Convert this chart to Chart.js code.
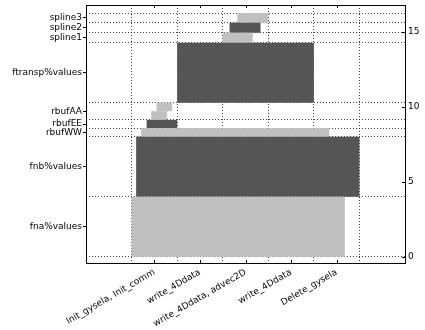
<!DOCTYPE html>
<html>
<head>
<meta charset="utf-8">
<script src="https://cdn.jsdelivr.net/npm/chart.js@4/dist/chart.umd.min.js"></script>
<style>
  html, body { margin: 0; padding: 0; background: #fff; }
  #wrap { width: 425px; height: 330px; }
</style>
</head>
<body>
<div id="wrap"><canvas id="memChart" width="425" height="330"></canvas></div>
<script>
// variables, bottom-up
const varNames = ['fna%values', 'fnb%values', 'rbufWW', 'rbufEE', 'rbufAA', 'ftransp%values', 'spline1', 'spline2', 'spline3'];

// allocation blocks (rbufAA is allocated twice)
const blockVar   = [0, 1, 2, 3, 4, 4, 5, 6, 7, 8];
const blockStart = [1.00, 1.10, 1.21, 1.33, 1.43, 1.55, 2.00, 3.00, 3.15, 3.32];
const blockEnd   = [5.68, 6.00, 5.34, 2.00, 1.78, 1.89, 5.00, 3.66, 3.83, 4.00];
const blockLow   = [0.00, 4.00, 8.00, 8.57, 9.12, 9.70, 10.27, 14.27, 14.93, 15.60];
const blockHigh  = [4.00, 8.00, 8.57, 9.12, 9.70, 10.27, 14.27, 14.93, 15.60, 16.24];

// x axis
const stepLabels = ['Init_gysela, Init_comm', 'write_4Ddata', 'write_4Ddata, advec2D', 'write_4Ddata', 'Delete_gysela'];
const stepPos    = [1.5, 2.5, 3.5, 4.5, 5.5];
const stepGrid   = [1, 2, 3, 4, 5, 6];

// right axis
const sizeTicks = [0, 5, 10, 15];

const xMin = 0, xMax = 7;
const yMin = -0.42, yMax = 16.78;

const lightGray = '#c0c0c0';
const darkGray = '#555555';
const gridDots = 'rgba(0,0,0,0.75)';

// extent of each variable -> label position and grid boundaries
const varLow = varNames.map((n, i) => Math.min(...blockLow.filter((v, j) => blockVar[j] === i)));
const varHigh = varNames.map((n, i) => Math.max(...blockHigh.filter((v, j) => blockVar[j] === i)));
const varMid = varNames.map((n, i) => (varLow[i] + varHigh[i]) / 2);
const yGrid = [...new Set(varLow.concat(varHigh))].sort((a, b) => a - b);

const datasets = blockVar.map((vi, i) => ({
    data: [
        {x: blockStart[i], y: blockLow[i]},
        {x: blockEnd[i], y: blockLow[i]},
        {x: blockEnd[i], y: blockHigh[i]},
        {x: blockStart[i], y: blockHigh[i]}
    ],
    showLine: true,
    fill: 'shape',
    backgroundColor: vi % 2 === 0 ? lightGray : darkGray,
    borderWidth: 0,
    pointRadius: 0,
    tension: 0,
    xAxisID: 'x',
    yAxisID: 'y'
}));

// matplotlib style ticks pointing into the plot
const inwardTicks = {
    id: 'inwardTicks',
    afterDraw(chart) {
        const {ctx, chartArea: a, scales} = chart;
        ctx.save();
        ctx.strokeStyle = '#000';
        ctx.lineWidth = 1;
        ctx.beginPath();
        scales.x.ticks.forEach(t => {
            const px = Math.round(scales.x.getPixelForValue(t.value)) + 0.5;
            ctx.moveTo(px, a.bottom); ctx.lineTo(px, a.bottom - 3);
            ctx.moveTo(px, a.top); ctx.lineTo(px, a.top + 3);
        });
        scales.y2.ticks.forEach(t => {
            const py = Math.round(scales.y2.getPixelForValue(t.value)) + 0.5;
            ctx.moveTo(a.right, py); ctx.lineTo(a.right - 3, py);
        });
        ctx.stroke();
        ctx.restore();
    }
};

// fixed axis sizes, no extra room for half labels
const fixWidth = w => axis => { axis.width = w; axis.paddingTop = 0; axis.paddingBottom = 0; };
const fixHeight = h => axis => { axis.height = h; axis.paddingLeft = 0; axis.paddingRight = 0; };

Chart.defaults.font.family = '"DejaVu Sans", sans-serif';
Chart.defaults.font.size = 9;
Chart.defaults.color = '#000';

new Chart(document.getElementById('memChart').getContext('2d'), {
    type: 'scatter',
    data: { datasets: datasets },
    plugins: [inwardTicks],
    options: {
        responsive: false,
        animation: false,
        layout: { padding: { top: 5, left: 0, right: 0, bottom: 0 } },
        plugins: { legend: { display: false }, tooltip: { enabled: false } },
        scales: {
            x: {
                type: 'linear', position: 'bottom', min: xMin, max: xMax,
                afterBuildTicks: axis => { axis.ticks = stepPos.map(v => ({value: v})); },
                afterFit: fixHeight(67),
                ticks: {
                    autoSkip: false, minRotation: 30, maxRotation: 30, padding: 4,
                    callback: (v, i) => stepLabels[i]
                },
                grid: { display: false, drawTicks: false },
                border: { display: true, color: '#000', width: 1 }
            },
            xg: {
                type: 'linear', position: 'bottom', min: xMin, max: xMax, z: 1,
                afterBuildTicks: axis => { axis.ticks = stepGrid.map(v => ({value: v})); },
                afterFit: fixHeight(0),
                ticks: { display: false },
                grid: { color: gridDots, lineWidth: 1, drawTicks: false },
                border: { display: false, dash: [1, 2] }
            },
            xt: {
                type: 'linear', position: 'top', min: xMin, max: xMax,
                afterFit: fixHeight(0),
                ticks: { display: false },
                grid: { display: false, drawTicks: false },
                border: { display: true, color: '#000', width: 1 }
            },
            y: {
                type: 'linear', position: 'left', min: yMin, max: yMax,
                afterBuildTicks: axis => { axis.ticks = varMid.map(v => ({value: v})); },
                afterFit: fixWidth(86),
                ticks: { autoSkip: false, padding: 1, callback: (v, i) => varNames[i] },
                grid: { drawOnChartArea: false, tickLength: 3, color: '#000' },
                border: { display: true, color: '#000', width: 1 }
            },
            yg: {
                type: 'linear', position: 'left', min: yMin, max: yMax, z: 1,
                afterBuildTicks: axis => { axis.ticks = yGrid.map(v => ({value: v})); },
                afterFit: fixWidth(0),
                ticks: { display: false },
                grid: { color: gridDots, lineWidth: 1, drawTicks: false },
                border: { display: false, dash: [1, 2] }
            },
            y2: {
                type: 'linear', position: 'right', min: yMin, max: yMax,
                afterBuildTicks: axis => { axis.ticks = sizeTicks.map(v => ({value: v})); },
                afterFit: fixWidth(20),
                ticks: { autoSkip: false, padding: 3 },
                grid: { display: false, drawTicks: false },
                border: { display: true, color: '#000', width: 1 }
            }
        }
    }
});
</script>
</body>
</html>
